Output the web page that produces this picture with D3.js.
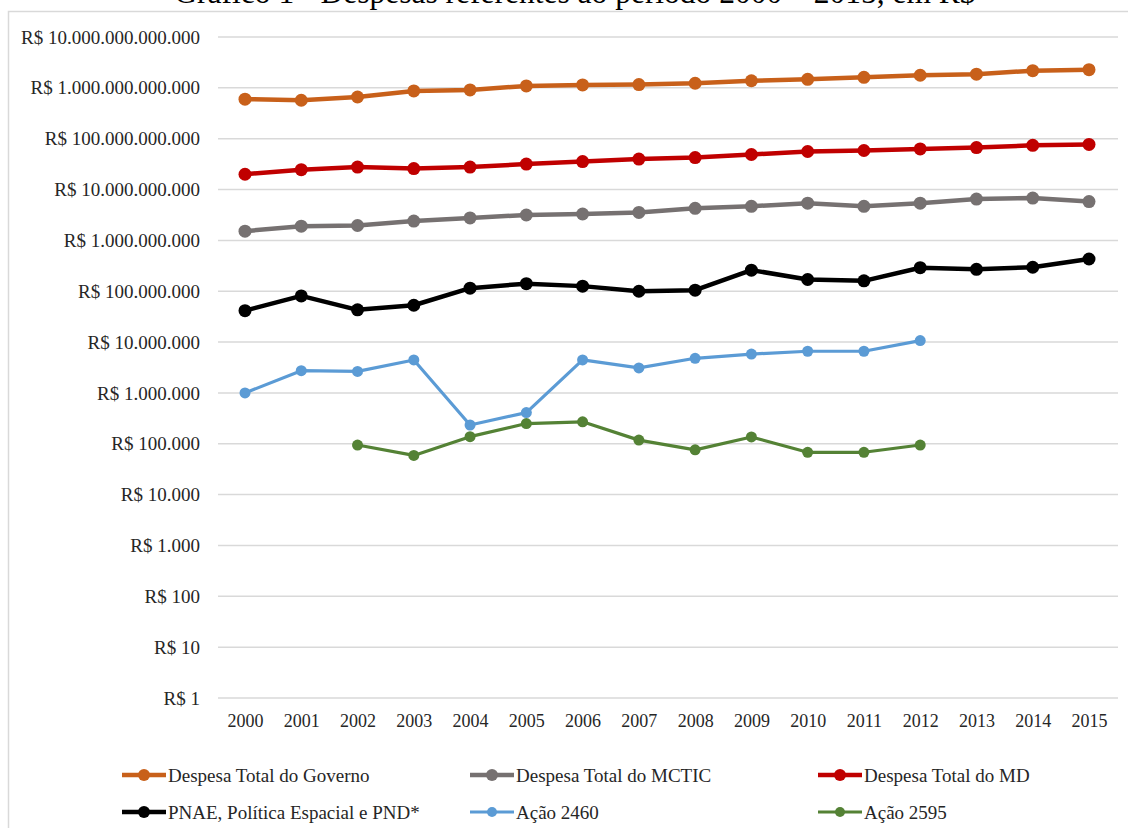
<!DOCTYPE html>
<html><head><meta charset="utf-8">
<script src="https://cdn.jsdelivr.net/npm/d3@7"></script>
<style>body{margin:0;background:#fff;} svg{display:block;font-family:"Liberation Serif","Times New Roman",serif;}</style>
</head><body><svg id="c" width="1128" height="828"></svg>
<script>
const title = "Gráfico 1 - Despesas referentes ao período 2000 – 2015, em R$";
const years = [2000,2001,2002,2003,2004,2005,2006,2007,2008,2009,2010,2011,2012,2013,2014,2015];
const tickValues = [1,10,100,1e3,1e4,1e5,1e6,1e7,1e8,1e9,1e10,1e11,1e12,1e13];
const seriesNames = ["Despesa Total do Governo","Despesa Total do MCTIC","Despesa Total do MD","PNAE, Política Espacial e PND*","Ação 2460","Ação 2595"];
const governo = [6.0e11,5.7e11,6.6e11,8.7e11,9.1e11,1.09e12,1.14e12,1.16e12,1.23e12,1.38e12,1.47e12,1.61e12,1.77e12,1.86e12,2.18e12,2.28e12];
const mctic = [1.52e9,1.9e9,1.96e9,2.4e9,2.76e9,3.16e9,3.3e9,3.55e9,4.27e9,4.68e9,5.4e9,4.68e9,5.4e9,6.5e9,6.8e9,5.8e9];
const md = [2.0e10,2.46e10,2.76e10,2.58e10,2.76e10,3.17e10,3.55e10,3.98e10,4.26e10,4.89e10,5.6e10,5.86e10,6.3e10,6.7e10,7.4e10,7.7e10];
const pnae = [4.15e7,8.1e7,4.3e7,5.3e7,1.15e8,1.41e8,1.26e8,1.0e8,1.05e8,2.6e8,1.7e8,1.6e8,2.9e8,2.7e8,2.96e8,4.3e8];
const acao2460 = [1.0e6,2.74e6,2.65e6,4.45e6,2.34e5,4.1e5,4.45e6,3.1e6,4.8e6,5.8e6,6.6e6,6.6e6,1.07e7,null,null,null];
const acao2595 = [null,null,9.45e4,5.9e4,1.38e5,2.5e5,2.7e5,1.18e5,7.6e4,1.36e5,6.8e4,6.8e4,9.45e4,null,null,null];
const colors = ["#C8601A","#767171","#C00000","#000000","#5B9BD5","#548235"];

const series = [governo,mctic,md,pnae,acao2460,acao2595].map((vals,i)=>({name:seriesNames[i],color:colors[i],values:vals,thick:i<4}));

const svg = d3.select("#c");
svg.append("rect").attr("x",8.5).attr("y",11.5).attr("width",1130).attr("height",830).attr("fill","none").attr("stroke","#d9d9d9").attr("stroke-width",1.5);
svg.append("text").attr("x",575).attr("y",3).attr("text-anchor","middle").attr("font-size",31.5).attr("fill","#000").text(title);

const x = d3.scalePoint().domain(years).range([245,1089]);
const y = d3.scaleLog().domain([1,1e13]).range([698,37]);
const fmt = v => "R$ " + d3.format(",.0f")(v).replace(/,/g,".");

svg.append("g").selectAll("line").data(tickValues).join("line")
  .attr("x1",218).attr("x2",1118).attr("y1",d=>y(d)).attr("y2",d=>y(d))
  .attr("stroke","#d9d9d9").attr("stroke-width",1.5);

const yAxis = svg.append("g").attr("transform","translate(218,0)")
  .call(d3.axisLeft(y).tickValues(tickValues).tickFormat(fmt).tickSize(0).tickPadding(18));
yAxis.select(".domain").remove();
yAxis.selectAll("text").attr("font-size",19).attr("fill","#262626").attr("font-family","Liberation Serif");

const xAxis = svg.append("g").attr("transform","translate(0,698)")
  .call(d3.axisBottom(x).tickSize(0).tickPadding(16));
xAxis.select(".domain").remove();
xAxis.selectAll("text").attr("font-size",18).attr("fill","#262626").attr("font-family","Liberation Serif");

const line = d3.line().defined(d=>d.v!=null).x(d=>x(d.year)).y(d=>y(d.v));
series.forEach(s=>{
  const pts = years.map((yr,i)=>({year:yr,v:s.values[i]}));
  svg.append("path").datum(pts).attr("d",line).attr("fill","none").attr("stroke",s.color)
    .attr("stroke-width",s.thick?4.5:3.2).attr("stroke-linejoin","round");
  svg.append("g").selectAll("circle").data(pts.filter(d=>d.v!=null)).join("circle")
    .attr("cx",d=>x(d.year)).attr("cy",d=>y(d.v)).attr("r",s.thick?6.5:5.5).attr("fill",s.color);
});

const legX = [122,470,818], legY = [775,812];
const leg = svg.append("g");
series.forEach((s,i)=>{
  const gx = legX[i%3], gy = legY[Math.floor(i/3)];
  const g = leg.append("g").attr("transform",`translate(${gx},${gy})`);
  g.append("line").attr("x1",0).attr("x2",44).attr("y1",0).attr("y2",0).attr("stroke",s.color).attr("stroke-width",s.thick?4.5:3.2);
  g.append("circle").attr("cx",22).attr("cy",0).attr("r",s.thick?6:5).attr("fill",s.color);
  g.append("text").attr("x",46).attr("y",6.5).attr("font-size",19).attr("fill","#262626").text(s.name);
});
</script></body></html>
